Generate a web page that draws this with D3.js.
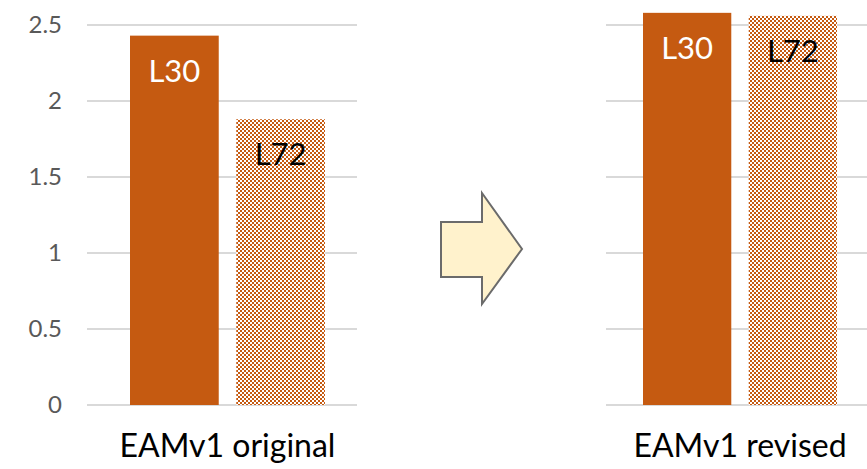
<!DOCTYPE html>
<html>
<head>
<meta charset="utf-8">
<script src="https://cdn.jsdelivr.net/npm/d3@7"></script>
<style>
  html, body { margin: 0; padding: 0; background: #fff; }
  svg { display: block; }
</style>
</head>
<body>
<svg id="chart" width="867" height="469"></svg>
<script>
// Values per configuration
const categories = ["EAMv1 original", "EAMv1 revised"];
const series = ["L30", "L72"];
const l30Values = [2.43, 2.58];
const l72Values = [1.88, 2.56];
const yTicks = [0, 0.5, 1, 1.5, 2, 2.5];
const yTickLabels = ["0", "0.5", "1", "1.5", "2", "2.5"];

const svg = d3.select("#chart");
const font = "Lato, 'Open Sans', sans-serif";
const orange = "#C55A11";

// Checkerboard fill for the L72 bars
const defs = svg.append("defs");
const pat = defs.append("pattern")
  .attr("id", "checker")
  .attr("patternUnits", "userSpaceOnUse")
  .attr("width", 4).attr("height", 4);
pat.append("rect").attr("width", 4).attr("height", 4).attr("fill", orange);
pat.append("rect").attr("x", 0).attr("y", 0).attr("width", 2).attr("height", 2).attr("fill", "#ffffff");
pat.append("rect").attr("x", 2).attr("y", 2).attr("width", 2).attr("height", 2).attr("fill", "#ffffff");

const y = d3.scaleLinear().domain([0, 2.5]).range([405, 25]);

// Two panels: each has its own grid extent and bar band
const panels = [
  { grid: [87, 357], bars: [130, 325] },
  { grid: [606, 867], bars: [643, 837] }
];

const valuesBySeries = { L30: l30Values, L72: l72Values };

panels.forEach((p, i) => {
  const g = svg.append("g");
  // Gridlines
  g.selectAll("line.grid").data(yTicks).join("line")
    .attr("x1", p.grid[0]).attr("x2", p.grid[1])
    .attr("y1", d => y(d)).attr("y2", d => y(d))
    .attr("stroke", "#d9d9d9").attr("stroke-width", 2);

  const x = d3.scaleBand().domain(series).range(p.bars).paddingInner(0.165).paddingOuter(0);

  const data = series.map(s => ({ s, v: valuesBySeries[s][i] }));
  g.selectAll("rect.bar").data(data).join("rect")
    .attr("x", d => x(d.s))
    .attr("width", x.bandwidth())
    .attr("y", d => y(d.v))
    .attr("height", d => y(0) - y(d.v))
    .attr("fill", d => d.s === "L30" ? orange : "url(#checker)");

  g.selectAll("text.lbl").data(data).join("text")
    .attr("x", d => x(d.s) + x.bandwidth() / 2)
    .attr("y", d => y(d.v) + 46)
    .attr("text-anchor", "middle")
    .attr("font-family", font)
    .attr("font-size", 31)
    .attr("fill", d => d.s === "L30" ? "#ffffff" : "#000000")
    .text(d => d.s);

  // Category label
  g.append("text")
    .attr("x", (p.bars[0] + p.bars[1]) / 2)
    .attr("y", 457)
    .attr("text-anchor", "middle")
    .attr("font-family", font)
    .attr("font-size", 32)
    .attr("fill", "#000")
    .text(categories[i]);
});

// Y axis tick labels (left panel only)
const yAxis = d3.axisLeft(y).tickValues(yTicks)
  .tickFormat((d, i) => yTickLabels[i]).tickSize(0).tickPadding(0);
const ya = svg.append("g").attr("transform", "translate(62,0)").call(yAxis);
ya.select(".domain").remove();
ya.selectAll("text")
  .attr("font-family", font)
  .attr("font-size", 24)
  .attr("fill", "#595959");

// Block arrow between the panels
const arrow = [[441, 222], [482, 222], [482, 193], [522, 249], [482, 304], [482, 277], [441, 277]];
svg.append("path")
  .attr("d", d3.line()(arrow) + "Z")
  .attr("fill", "#FFF2CC")
  .attr("stroke", "#6b6b6b")
  .attr("stroke-width", 2)
  .attr("stroke-linejoin", "miter");
</script>
</body>
</html>
